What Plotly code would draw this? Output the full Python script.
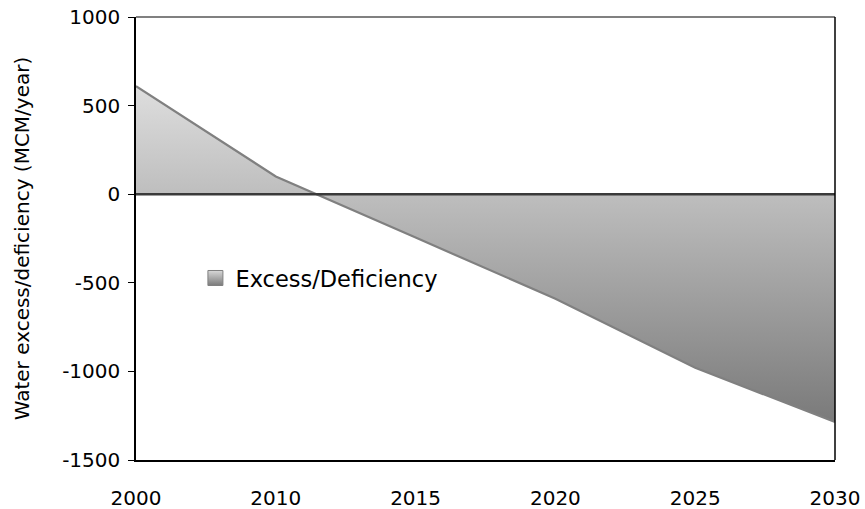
import plotly.graph_objects as go

years = ["2000", "2010", "2015", "2020", "2025", "2030"]
excess = [610, 100, -245, -590, -980, -1285]
y_ticks = [1000, 500, 0, -500, -1000, -1500]
y_tick_labels = ["1000", "500", "0", "-500", "-1000", "-1500"]
series_name = "Excess/Deficiency"
y_title = "Water excess/deficiency (MCM/year)"

font_family = "DejaVu Sans, Open Sans, sans-serif"

fig = go.Figure()
fig.add_trace(go.Scatter(
    x=years, y=excess, mode="lines", name=series_name, showlegend=False,
    line=dict(color="#808080", width=2.2),
    fill="tozeroy",
    fillgradient=dict(type="vertical",
                      colorscale=[[0, "#7a7a7a"], [1, "#dedede"]]),
    hoverinfo="skip",
))
# legend swatch (square with vertical gradient)
fig.add_trace(go.Scatter(
    x=[None], y=[None], mode="markers", name=series_name, showlegend=True,
    marker=dict(symbol="square", size=15, color="#d8d8d8",
                gradient=dict(type="vertical", color="#7a7a7a"),
                line=dict(color="#808080", width=1)),
))

fig.update_layout(
    width=865, height=509,
    margin=dict(l=136, r=30, t=17, b=49),
    plot_bgcolor="white", paper_bgcolor="white",
    font=dict(family=font_family, size=20, color="#000"),
    showlegend=True,
    legend=dict(x=0.085, y=0.41, xanchor="left", yanchor="middle",
                bgcolor="rgba(0,0,0,0)", font=dict(size=22.5),
                itemwidth=30),
    xaxis=dict(type="category", range=[0, 5], showgrid=False,
               showline=True, linecolor="#000", linewidth=1.5,
               ticks="", tickfont=dict(size=20), zeroline=False,
               ticklabelstandoff=19, automargin=False),
    yaxis=dict(range=[-1500, 1000], tickvals=y_ticks, ticktext=y_tick_labels,
               showgrid=False,
               showline=True, linecolor="#000", linewidth=1.5,
               ticks="outside", ticklen=6, tickcolor="#000",
               ticklabelstandoff=4, automargin=False,
               zeroline=False, tickfont=dict(size=20),
               title=dict(text=y_title, font=dict(size=20), standoff=27)),
    shapes=[
        dict(type="line", xref="paper", yref="y", x0=0, x1=1, y0=0, y1=0,
             line=dict(color="#3a3a3a", width=2.4), layer="above"),
        dict(type="line", xref="paper", yref="paper", x0=0, x1=1, y0=1, y1=1,
             line=dict(color="#808080", width=2), layer="above"),
        dict(type="line", xref="paper", yref="paper", x0=1, x1=1, y0=0, y1=1,
             line=dict(color="#000", width=1.5), layer="above"),
    ],
)

fig.write_html("out.html", config={"displayModeBar": False},
               post_script="document.body.style.margin='0';")
